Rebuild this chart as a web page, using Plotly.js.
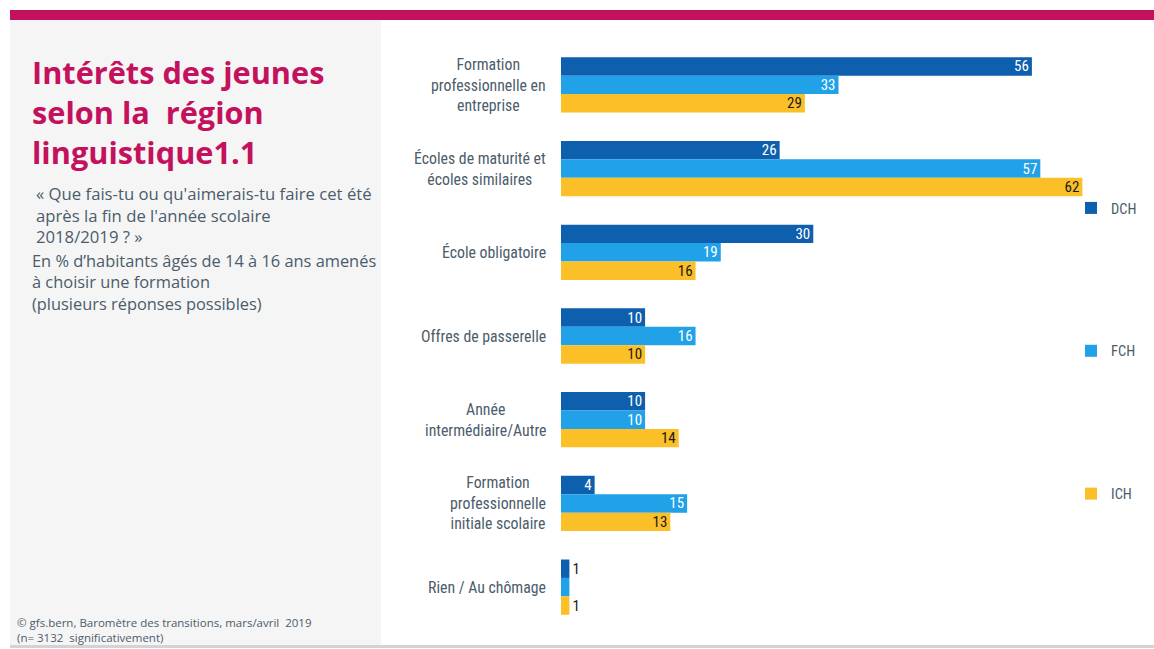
<!DOCTYPE html>
<html><head><meta charset="utf-8">
<script src="https://cdn.plot.ly/plotly-3.0.1.min.js"></script>
<style>html,body{margin:0;padding:0;background:#fff;}#chart{width:1154px;height:649px;}</style>
</head><body><div id="chart"></div>
<script>
const categories = [
  "Formation<br>professionnelle en<br>entreprise",
  "Écoles de maturité et<br>écoles similaires",
  "École obligatoire",
  "Offres de passerelle",
  "Année<br>intermédiaire/Autre",
  "Formation<br>professionnelle<br>initiale scolaire",
  "Rien / Au chômage"
];
const seriesNames = ["DCH", "FCH", "ICH"];
const dch = [56, 26, 30, 10, 10, 4, 1];
const fch = [33, 57, 19, 16, 10, 15, 1];
const ich = [29, 62, 16, 10, 14, 13, 1];

const W = 1154, H = 649;
const L = 561, R = 38, T = 43, B = 20;
const PW = W - L - R, PH = H - T - B;
const px = x => (x - L) / PW;
const py = y => 1 - (y - T) / PH;

const colors = ["#0E5FAD", "#20A1E8", "#FBBF28"];
const insideColors = ["#ffffff", "#ffffff", "#1a1a1a"];
const outsideColors = ["#1a1a1a", "#ffffff", "#1a1a1a"];
const barFont = "Liberation Sans Narrow, Roboto Condensed, Roboto, sans-serif";

const data = [dch, fch, ich].map((vals, i) => ({
  type: "bar", orientation: "h",
  name: seriesNames[i], legendgroup: seriesNames[i],
  y: categories, x: vals,
  marker: {color: colors[i]},
  text: vals.map(String), textposition: "auto", textangle: 0,
  insidetextanchor: "end",
  insidetextfont: {family: barFont, size: 15, color: insideColors[i]},
  outsidetextfont: {family: barFont, size: 15, color: outsideColors[i]},
  constraintext: "none", cliponaxis: false,
  hoverinfo: "x+name"
}));

const gray = "#4B5C6B";
const annotations = categories.map(c => ({
  xref: "paper", yref: "y", x: px(548), y: c, xanchor: "right", yanchor: "middle",
  text: c, align: "center", showarrow: false,
  font: {family: barFont, size: 15.8, color: gray}
}));

const sideFont = "Open Sans, sans-serif";
annotations.push(
  {xref: "paper", yref: "paper", x: px(30), y: py(49), xanchor: "left", yanchor: "top", align: "left",
   text: "<b>Intérêts des jeunes<br>selon la  région<br>linguistique1.1</b>", showarrow: false,
   font: {family: sideFont, size: 30.7, color: "#C4115D"}},
  {xref: "paper", yref: "paper", x: px(34), y: py(180), xanchor: "left", yanchor: "top", align: "left",
   text: "« Que fais-tu ou qu'aimerais-tu faire cet été<br>après la fin de l'année scolaire<br>2018/2019 ? »", showarrow: false,
   font: {family: sideFont, size: 16.7, color: gray}},
  {xref: "paper", yref: "paper", x: px(30), y: py(247), xanchor: "left", yanchor: "top", align: "left",
   text: "En % d’habitants âgés de 14 à 16 ans amenés<br>à choisir une formation<br>(plusieurs réponses possibles)", showarrow: false,
   font: {family: sideFont, size: 16.4, color: gray}},
  {xref: "paper", yref: "paper", x: px(15), y: py(613), xanchor: "left", yanchor: "top", align: "left",
   text: "© gfs.bern, Baromètre des transitions, mars/avril  2019<br>(n= 3132  significativement)", showarrow: false,
   font: {family: sideFont, size: 11.5, color: gray}}
);

const shapes = [
  {type: "rect", xref: "paper", yref: "paper", x0: px(10), x1: px(381), y0: py(645), y1: py(20),
   fillcolor: "#F5F5F5", line: {width: 0}, layer: "below"},
  {type: "rect", xref: "paper", yref: "paper", x0: px(10), x1: px(1154), y0: py(20), y1: py(10),
   fillcolor: "#C4115D", line: {width: 0}, layer: "below"},
  {type: "rect", xref: "paper", yref: "paper", x0: px(10), x1: px(1154), y0: py(648), y1: py(645),
   fillcolor: "#D3D3D3", line: {width: 0}, layer: "below"}
];

const layout = {
  width: W, height: H,
  margin: {l: L, r: R, t: T, b: B, pad: 0, autoexpand: false},
  paper_bgcolor: "#ffffff", plot_bgcolor: "rgba(0,0,0,0)",
  barmode: "group", bargap: 0.34, bargroupgap: 0,
  xaxis: {range: [0, 66], visible: false, fixedrange: true},
  yaxis: {autorange: "reversed", showticklabels: false, showgrid: false, zeroline: false,
          showline: false, ticks: "", fixedrange: true},
  showlegend: true,
  legend: {xref: "container", yref: "container", x: 1071 / W, xanchor: "left", y: 1 - 192 / H, yanchor: "top",
           bgcolor: "rgba(0,0,0,0)", tracegroupgap: 121, traceorder: "grouped",
           font: {family: barFont, size: 14.5, color: gray}, itemwidth: 30},
  annotations: annotations,
  shapes: shapes
};

Plotly.newPlot("chart", data, layout, {displayModeBar: false, staticPlot: true});
</script>
</body></html>
